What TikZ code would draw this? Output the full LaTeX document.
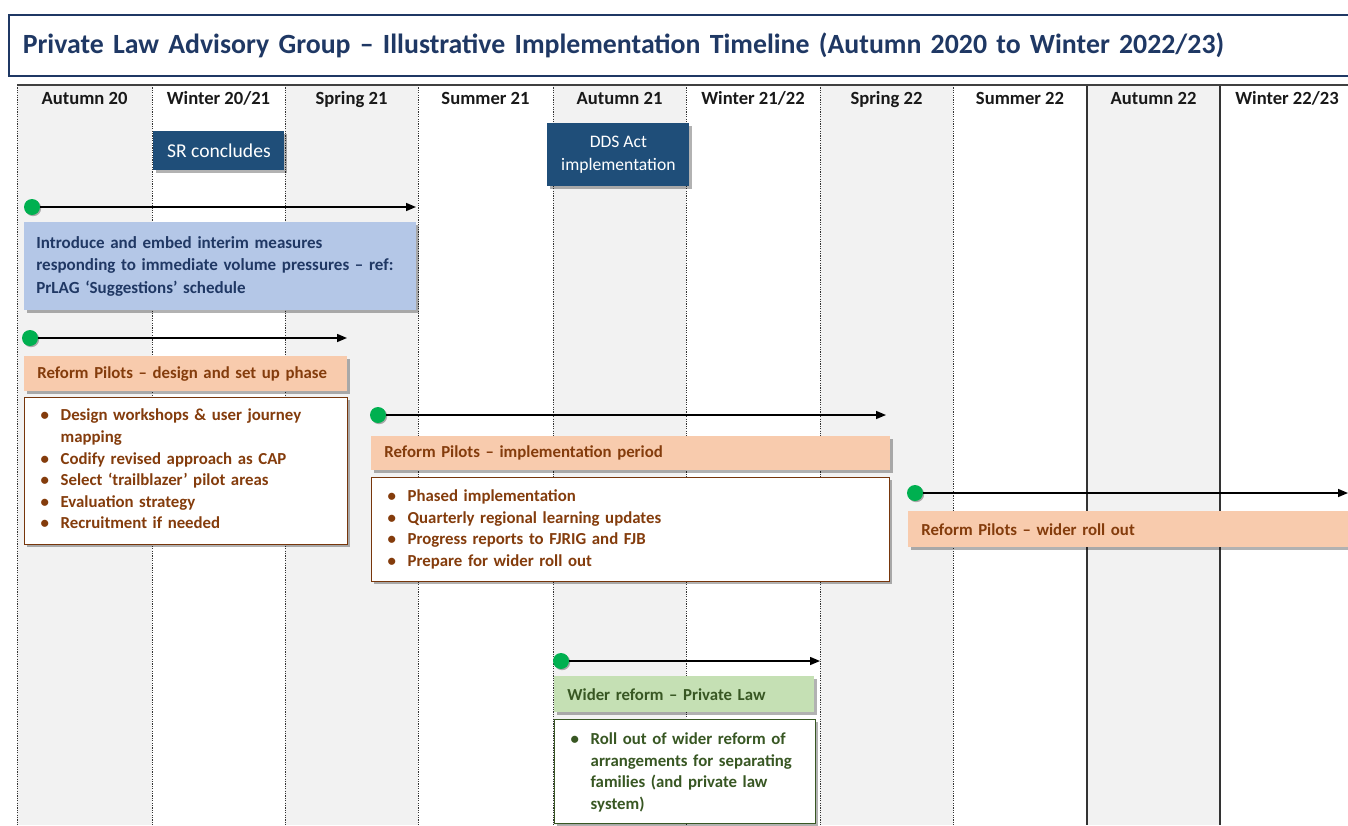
\documentclass[tikz,border=0pt]{standalone}
\usepackage{fontspec}
\setmainfont{Carlito}
\usepackage{xcolor}
\usetikzlibrary{arrows.meta,positioning,calc,shadows}

\definecolor{titlenavy}{HTML}{1F3864}
\definecolor{boxnavy}{HTML}{1F4E79}
\definecolor{interimfill}{HTML}{B4C7E7}
\definecolor{interimtext}{HTML}{203864}
\definecolor{pilotfill}{HTML}{F8CBAD}
\definecolor{pilottext}{HTML}{843C0C}
\definecolor{reformfill}{HTML}{C5E0B4}
\definecolor{reformtext}{HTML}{385723}
\definecolor{colgray}{HTML}{F2F2F2}
\definecolor{startgreen}{HTML}{00B050}

\newcommand{\pxl}{0.5pt}
\newcommand{\bitem}[1]{\par\noindent\hangindent=12pt\hangafter=1\makebox[12pt][l]{\hspace{2pt}\textbullet}#1\par}

\begin{document}
\begin{tikzpicture}[x=0.5pt,y=-0.5pt,
      season/.style={font=\bfseries\fontsize{9.3}{11}\selectfont,text=black!90,anchor=base},
      colline/.style={draw=black!80,line width=0.5pt,dash pattern=on 0.6pt off 0.6pt},
      softshadow/.style={drop shadow={shadow xshift=1.3pt,shadow yshift=-1.3pt,opacity=0.3,fill=black}},
      darkbox/.style={fill=boxnavy,text=white,align=center,inner sep=0pt,softshadow,
        font=\fontsize{9.8}{11.5}\selectfont},
      interim/.style={fill=interimfill,text=interimtext,align=left,inner xsep=6pt,inner ysep=0pt,softshadow,
        font=\bfseries\fontsize{8.5}{11.2}\selectfont},
      headbar/.style={align=left,inner xsep=6.5pt,inner ysep=0pt,softshadow,font=\bfseries\fontsize{8.4}{10}\selectfont},
      listbox/.style={fill=white,line width=0.7pt,align=left,inner xsep=6pt,inner ysep=0pt,softshadow,
        font=\bfseries\fontsize{8.4}{10.8}\selectfont},
      startdot/.style={circle,fill=startgreen,minimum size=8pt,inner sep=0pt,
        drop shadow={shadow xshift=0.6pt,shadow yshift=-0.6pt,opacity=0.3,fill=black}},
      span/.style={draw=black,line width=0.75pt,-{Triangle[length=5pt,width=4pt]}}]
    \clip (0,0) rectangle (1348,825);
    \fill[white] (0,0) rectangle (1348,825);
    % title
    \node[draw=titlenavy,line width=0.8pt,fill=white,anchor=north west,minimum width=1400*\pxl,
      minimum height=61*\pxl,inner xsep=7pt,text width=1380*\pxl,align=left,text=titlenavy,
      font=\bfseries\fontsize{13.9}{15}\selectfont] (title) at (8,14)
      {Private Law Advisory Group -- Illustrative Implementation Timeline (Autumn 2020 to Winter 2022/23)};
    % season columns
    \foreach \xa/\xb/\lbl/\shade [count=\i] in {17/152/{Autumn 20}/colgray, 152/285/{Winter 20/21}/white,
        285/418/{Spring 21}/colgray, 418/553/{Summer 21}/white, 553/686/{Autumn 21}/colgray,
        686/820/{Winter 21/22}/white, 820/953/{Spring 22}/colgray, 953/1087/{Summer 22}/white,
        1087/1220/{Autumn 22}/colgray, 1220/1354/{Winter 22/23}/white} {
      \fill[\shade] (\xa,85) rectangle (\xb,825);
      \node[season] (season\i) at ({(\xa+\xb)/2},104) {\lbl};
    }
    \foreach \x in {17,152,285,418,553,686,820,953} {
      \draw[colline] (\x,85) -- (\x,825);
    }
    \foreach \x in {1087,1220} {
      \draw[draw=black!80,line width=0.8pt] (\x,85) -- (\x,825);
    }
    \draw[draw=black!75,line width=0.8pt] (17,85) -- (1348,85);
    % milestones
    \node[darkbox,anchor=north west,minimum width=131*\pxl,minimum height=39*\pxl] (sr) at (153,131) {SR concludes};
    \node[darkbox,anchor=north west,minimum width=142*\pxl,minimum height=63*\pxl,
      font=\fontsize{8.8}{11.5}\selectfont] (dds) at (547,123) {DDS Act\\implementation};
    % interim measures
    \node[startdot] (d1) at (32,207) {};
    \coordinate (e1) at (416,207);
    \draw[span] (d1) -- (e1);
    \node[interim,anchor=north west,minimum width=392*\pxl,minimum height=88*\pxl,text width=368*\pxl] (interim) at (24,222)
      {Introduce and embed interim measures\\responding to immediate volume pressures -- ref:\\PrLAG ‘Suggestions’ schedule};
    % pilots: design
    \node[startdot] (d2) at (30,338) {};
    \coordinate (e2) at (347,338);
    \draw[span] (d2) -- (e2);
    \node[headbar,fill=pilotfill,text=pilottext,anchor=north west,minimum width=323*\pxl,minimum height=35*\pxl,
      text width=297*\pxl] (design) at (24,356) {Reform Pilots -- design and set up phase};
    \node[listbox,draw=pilottext!90!black,text=pilottext,anchor=north west,minimum width=323*\pxl,minimum height=147*\pxl,
      text width=299*\pxl] (designlist) at (24,397)
      {\bitem{Design workshops \& user journey\newline mapping}
       \bitem{Codify revised approach as CAP}
       \bitem{Select ‘trailblazer’ pilot areas}
       \bitem{Evaluation strategy}
       \bitem{Recruitment if needed}\vspace{7pt}};
    % pilots: implementation
    \node[startdot] (d3) at (378,415) {};
    \coordinate (e3) at (886,415);
    \draw[span] (d3) -- (e3);
    \node[headbar,fill=pilotfill,text=pilottext,anchor=north west,minimum width=519*\pxl,minimum height=34*\pxl,
      text width=493*\pxl] (implement) at (371,436) {Reform Pilots -- implementation period};
    \node[listbox,draw=pilottext!90!black,text=pilottext,anchor=north west,minimum width=518*\pxl,minimum height=104*\pxl,
      text width=494*\pxl] (implementlist) at (371,477)
      {\bitem{Phased implementation}
       \bitem{Quarterly regional learning updates}
       \bitem{Progress reports to FJRIG and FJB}
       \bitem{Prepare for wider roll out}\vspace{5pt}};
    % pilots: wider roll out
    \node[startdot] (d4) at (915,493) {};
    \coordinate (e4) at (1348,493);
    \draw[span] (d4) -- (e4);
    \node[headbar,fill=pilotfill,text=pilottext,anchor=north west,minimum width=460*\pxl,minimum height=36*\pxl,
      text width=434*\pxl] (rollout) at (908,511) {Reform Pilots -- wider roll out};
    % wider reform
    \node[startdot] (d5) at (561,661) {};
    \coordinate (e5) at (820,661);
    \draw[span] (d5) -- (e5);
    \node[headbar,fill=reformfill,text=reformtext,anchor=north west,minimum width=260*\pxl,minimum height=36*\pxl,
      text width=234*\pxl] (reform) at (554,676) {Wider reform -- Private Law};
    \node[listbox,draw=reformtext,text=reformtext,anchor=north west,minimum width=261*\pxl,minimum height=104*\pxl,
      text width=237*\pxl] (reformlist) at (554,719)
      {\bitem{Roll out of wider reform of\newline arrangements for separating\newline families (and private law\newline system)}\vspace{4pt}};
\end{tikzpicture}
\end{document}
